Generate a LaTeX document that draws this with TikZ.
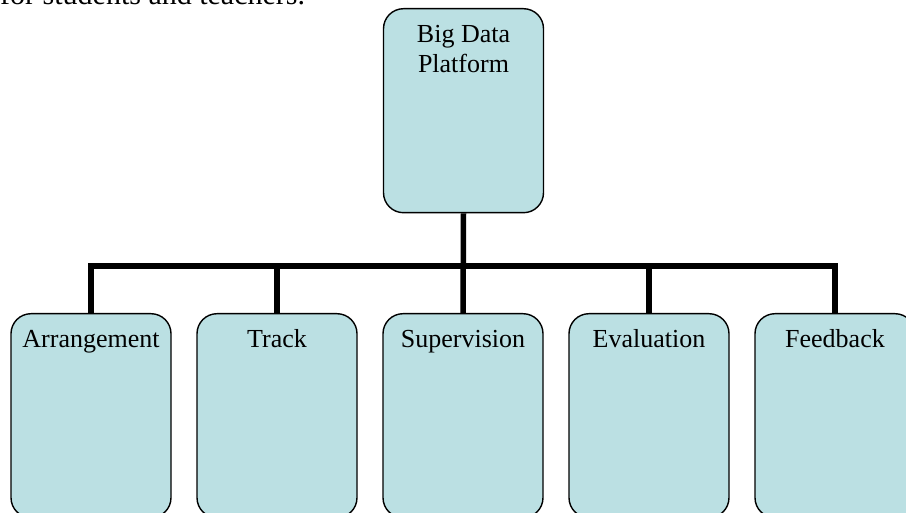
\documentclass[tikz,border=0pt]{standalone}
\usepackage{fontspec}
\setmainfont{Liberation Serif}
\definecolor{boxfill}{RGB}{187,224,227}
\tikzset{
  orgbox/.style={draw=black, fill=boxfill, line width=1.4pt, rounded corners=20pt,
    minimum width=160pt, minimum height=204pt, inner sep=0pt, anchor=north},
  boxlabel/.style={font=\fontsize{26}{30}\selectfont, inner sep=0pt, anchor=base, align=center},
  bus/.style={line width=5.5pt, line join=miter, line cap=rect}
}
\begin{document}
\begin{tikzpicture}[x=1pt, y=-1pt]
  \useasboundingbox (0,0) rectangle (906,513);

  % running text above the chart
  \node[font=\fontsize{30}{34}\selectfont, inner sep=0pt, anchor=base west] (caption) at (0,5) {for students and teachers.};

  % root box
  \node[orgbox] (root) at (463.5,8) {};
  \node[font=\fontsize{26}{30}\selectfont, inner sep=0pt, anchor=north, align=center] (rootlbl) at (463.5,25) {Big Data\\Platform};

  % child boxes
  \node[orgbox] (b1) at (91,313) {};
  \node[orgbox] (b2) at (277,313) {};
  \node[orgbox] (b3) at (463,313) {};
  \node[orgbox] (b4) at (649,313) {};
  \node[orgbox] (b5) at (835,313) {};

  \node[boxlabel] (l1) at (91,348) {Arrangement};
  \node[boxlabel] (l2) at (277,348) {Track};
  \node[boxlabel] (l3) at (463,348) {Supervision};
  \node[boxlabel] (l4) at (649,348) {Evaluation};
  \node[boxlabel] (l5) at (835,348) {Feedback};

  % connectors
  \coordinate (bus) at (463,266);
  \draw[bus, line cap=butt] (b1.north) |- (bus) -| (b5.north);
  \draw[bus, line cap=butt] (root.south) -- (b3.north);
  \draw[bus, line cap=butt] (b2.north) -- (b2.north |- bus);
  \draw[bus, line cap=butt] (b4.north) -- (b4.north |- bus);
\end{tikzpicture}
\end{document}
